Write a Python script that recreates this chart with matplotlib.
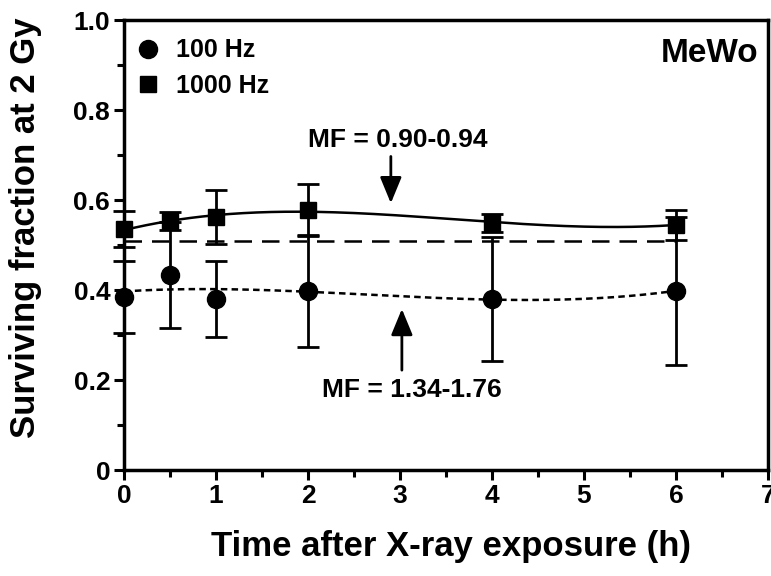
import matplotlib
matplotlib.use("Agg")
import matplotlib.pyplot as plt
import numpy as np
from matplotlib.lines import Line2D
from matplotlib.ticker import MultipleLocator

plt.rcParams["font.family"] = ["Liberation Sans", "DejaVu Sans"]
plt.rcParams["font.weight"] = "bold"
plt.rcParams["axes.labelweight"] = "bold"

# ===== DATA =====
time_h = [0, 0.5, 1, 2, 4, 6]

sf_100 = [0.385, 0.433, 0.380, 0.398, 0.380, 0.398]
err_100 = [0.080, 0.118, 0.084, 0.125, 0.137, 0.165]

sf_1000 = [0.535, 0.553, 0.563, 0.578, 0.550, 0.545]
err_1000 = [0.040, 0.020, 0.060, 0.058, 0.020, 0.034]

ref_level = 0.51  # long dashed line

y_ticks = [0, 0.2, 0.4, 0.6, 0.8, 1.0]
y_ticklabels = ["0", "0.2", "0.4", "0.6", "0.8", "1.0"]
x_ticks = [0, 1, 2, 3, 4, 5, 6, 7]

# ===== PLOT =====
fig = plt.figure(figsize=(7.71, 5.76), dpi=100)
ax = fig.add_axes([0.161, 0.184, 0.835, 0.781])

# smooth fits through each series
xs = np.linspace(0, 6, 200)
fit_100 = np.polyval(np.polyfit(time_h, sf_100, 3), xs)
fit_1000 = np.polyval(np.polyfit(time_h, sf_1000, 3), xs)

ax.plot(xs, fit_1000, color="black", lw=1.8, zorder=2)
ax.plot(xs, fit_100, color="black", lw=1.8, dashes=(2.6, 1.7), zorder=2)
ax.hlines(ref_level, 0, 6, color="black", lw=1.8, linestyles=(0, (7, 4)), zorder=2)

ax.errorbar(time_h, sf_100, yerr=err_100, fmt="o", color="black", ms=13,
            capsize=8, capthick=2, elinewidth=2, zorder=3, clip_on=False)
ax.errorbar(time_h, sf_1000, yerr=err_1000, fmt="s", color="black", ms=12,
            capsize=8, capthick=2, elinewidth=2, zorder=3, clip_on=False)

# annotations
arrow = dict(arrowstyle="-|>,head_length=0.8,head_width=0.33",
             mutation_scale=20, color="black", lw=2, shrinkA=0, shrinkB=0)
ax.annotate("", xy=(2.9, 0.593), xytext=(2.9, 0.697), arrowprops=arrow)
ax.text(2.97, 0.733, "MF = 0.90-0.94", ha="center", va="center", fontsize=19)
ax.annotate("", xy=(3.02, 0.358), xytext=(3.02, 0.222), arrowprops=arrow)
ax.text(3.13, 0.178, "MF = 1.34-1.76", ha="center", va="center", fontsize=19)
ax.text(6.9, 0.926, "MeWo", ha="right", va="center", fontsize=24)

# axes styling
ax.set_xlim(0, 7)
ax.set_ylim(0, 1.0)
ax.set_xticks(x_ticks)
ax.xaxis.set_minor_locator(MultipleLocator(0.5))
ax.set_yticks(y_ticks)
ax.set_yticklabels(y_ticklabels)
ax.yaxis.set_minor_locator(MultipleLocator(0.1))
ax.tick_params(which="major", direction="out", length=7, width=2.2,
               labelsize=19, pad=3, top=False, right=False)
ax.tick_params(which="minor", direction="out", length=5, width=2.2,
               top=False, right=False)
for s in ax.spines.values():
    s.set_linewidth(2.5)

ax.set_xlabel("Time after X-ray exposure (h)", fontsize=25)
ax.set_ylabel("Surviving fraction at 2 Gy", fontsize=25)
ax.xaxis.set_label_coords(0.508, -0.133)
ax.yaxis.set_label_coords(-0.127, 0.538)

handles = [
    Line2D([], [], ls="none", marker="o", color="black", ms=13),
    Line2D([], [], ls="none", marker="s", color="black", ms=12),
]
ax.legend(handles, ["100 Hz", "1000 Hz"], loc="upper left", frameon=False,
          fontsize=18, handletextpad=0.5, borderaxespad=0.2,
          labelspacing=0.45, handlelength=1.3, bbox_to_anchor=(-0.012, 0.993))

fig.savefig("out.png", dpi=100)
